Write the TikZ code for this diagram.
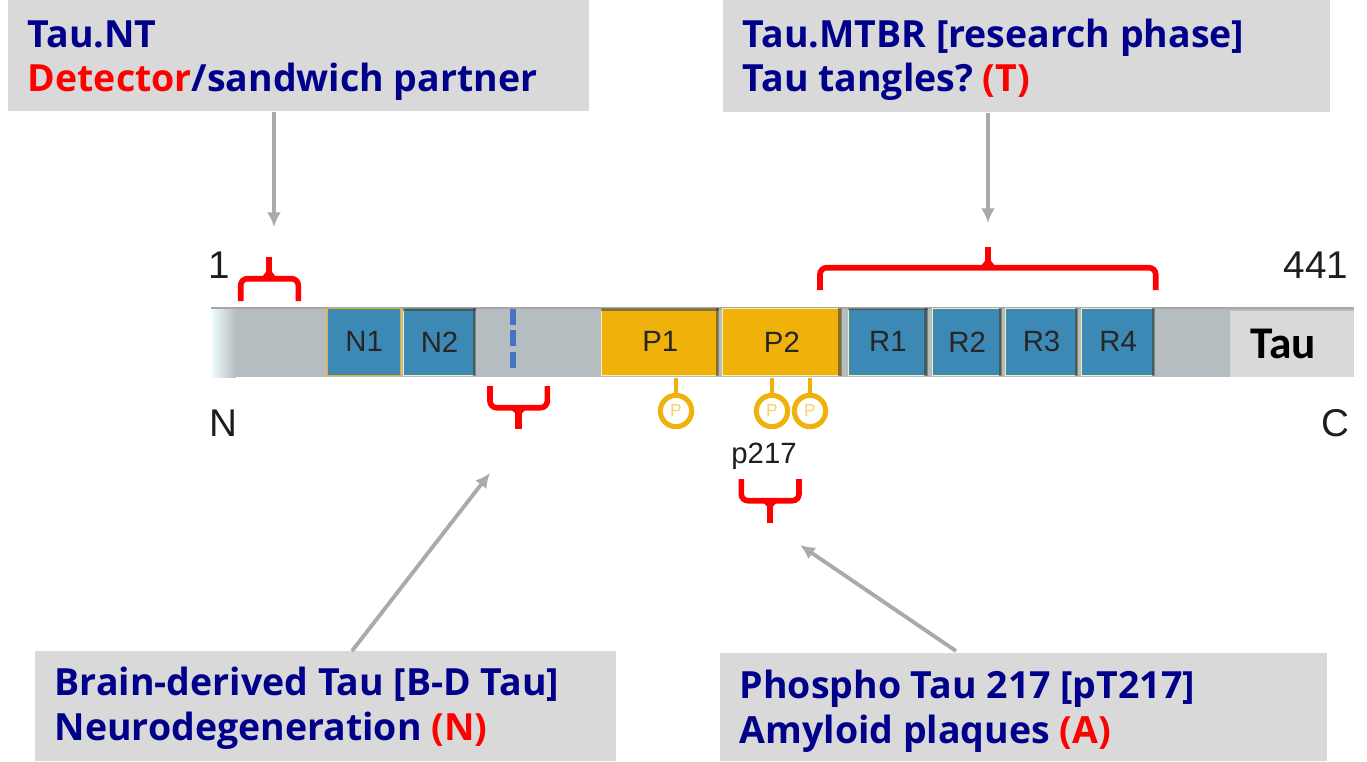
\documentclass[tikz,border=0pt]{standalone}
\usepackage{fontspec}
\setmainfont{Open Sans}
\newfontfamily\barfont{Liberation Sans}
\newfontfamily\taufont{Carlito}
\usetikzlibrary{arrows.meta}
\definecolor{lbl}{RGB}{0,0,139}
\definecolor{boxg}{RGB}{217,217,217}
\definecolor{barg}{RGB}{182,189,193}
\definecolor{dom}{RGB}{61,137,182}
\definecolor{gold}{RGB}{240,178,10}
\definecolor{arrowg}{RGB}{170,170,170}
\definecolor{dashb}{RGB}{68,114,196}
\definecolor{ink}{RGB}{30,30,30}
\definecolor{cream}{RGB}{250,240,170}
\newcommand{\rd}[1]{\textcolor{red}{#1}}
\tikzset{
 x=0.75pt,y=-0.75pt,
 panel/.style={fill=boxg,inner sep=0pt,anchor=north west},
 infotext/.style={font=\fontsize{28.1}{33.5}\selectfont\bfseries,text=lbl,align=left,anchor=base west,inner sep=0pt},
 domn/.style={draw=#1,line width=0.8pt,fill=dom,font=\barfont\fontsize{22}{22}\selectfont,text=black!85,inner sep=0pt,anchor=north west,minimum height=50pt},
 domg/.style={draw=#1,line width=0.8pt,fill=gold,font=\barfont\fontsize{22}{22}\selectfont,text=black!85,inner sep=0pt,anchor=north west,minimum height=50pt},
 shade/.style={fill=black!75,opacity=0.6},
 brace/.style={draw=red,line width=4.2pt,rounded corners=5pt},
 bracestem/.style={draw=red,line width=5pt},
 conn/.style={draw=arrowg,line width=2.9pt,-{Latex[length=11pt,width=10.5pt]}},
 num/.style={font=\barfont\fontsize{29}{29}\selectfont,text=ink,inner sep=0pt},
 pstem/.style={draw=gold,line width=3pt},
 pcirc/.style={circle,draw=gold,line width=3.8pt,fill=white,minimum size=23.5pt,inner sep=0pt,text=gold!60!white,font=\barfont\fontsize{13}{13}\selectfont},
}
\begin{document}
\begin{tikzpicture}
\useasboundingbox (0,0) rectangle (1367,761);
\fill[white] (0,0) rectangle (1367,761);
% boxes
\node[panel,minimum width=435.75pt,minimum height=83.25pt] (ntbox) at (8,0) {};
\node[panel,minimum width=455.25pt,minimum height=84pt] (mtbox) at (723,0) {};
\node[panel,minimum width=435.75pt,minimum height=82.5pt] (bdbox) at (35,651) {};
\node[panel,minimum width=455.25pt,minimum height=81pt] (ptbox) at (720,653) {};
\node[infotext] (t1) at (27.5,47) {Tau.NT};
\node[infotext] (t2) at (27.5,91) {\rd{Detector}/sandwich partner};
\node[infotext] (t3) at (742.5,47) {Tau.MTBR [research phase]};
\node[infotext] (t4) at (742.5,91) {Tau tangles?\hspace{-2.5pt} \rd{(T)}};
\node[infotext] (t5) at (54.5,695) {Brain-derived Tau [B-D Tau]};
\node[infotext] (t6) at (54.5,740) {Neurodegeneration \rd{(N)}};
\node[infotext] (t7) at (739.5,698) {Phospho Tau 217 [pT217]};
\node[infotext] (t8) at (739.5,743) {Amyloid plaques \rd{(A)}};
% bar
\node[panel,fill=barg,minimum width=857pt,minimum height=52.5pt] (bar) at (211,307) {};
\fill[left color=blue!5!cyan!6!white,right color=barg] (211,308) rectangle (236,377);
\fill[black!35] (211,307) rectangle (1354,309);
\node[panel,minimum width=93pt,minimum height=49pt] (taubox) at (1230,311) {};
\node[font=\taufont\bfseries\fontsize{34}{34}\selectfont,text=black,inner sep=0pt] (tau) at (1283,344) {Tau};
% domains
\node[domn=gold,minimum width=55pt] (n1) at (327,308) {N1};
\node[domn=cream,minimum width=54pt] (n2) at (403,308) {N2\hspace{2pt}};
\node[domg=cream,minimum width=88pt] (p1) at (601,308) {P1};
\node[domg=cream,minimum width=89pt] (p2) at (722,308) {P2};
\node[domn=cream,minimum width=59pt] (r1) at (848,308) {R1};
\node[domn=cream,minimum width=52pt] (r2) at (932,308) {R2};
\node[domn=cream,minimum width=54pt] (r3) at (1005,308) {R3};
\node[domn=cream,minimum width=55pt] (r4) at (1081,308) {R4\hspace{3pt}};
% dark bevels
\fill[shade] (n2.north west) rectangle ([yshift=-2pt]n2.north east);
\fill[shade] ([xshift=-2.5pt]n2.north east) rectangle (n2.south east);
\fill[shade] (p1.north west) rectangle ([yshift=-2pt]p1.north east);
\fill[shade] ([xshift=-2.5pt]p1.north east) rectangle (p1.south east);
\fill[shade] ([xshift=-2.5pt]p2.north east) rectangle (p2.south east);
\fill[shade] (r1.north west) rectangle ([yshift=-1.5pt]r1.north east);
\fill[shade] ([xshift=-2.5pt]r1.north east) rectangle (r1.south east);
\fill[shade] ([xshift=-2.5pt]r2.north east) rectangle (r2.south east);
\fill[shade] ([xshift=-2.5pt]r3.north east) rectangle (r3.south east);
\fill[shade] ([xshift=-2.5pt]r4.north east) rectangle (r4.south east);
\draw[dashb,line width=4.5pt,dash pattern=on 12pt off 4pt] (513,309) -- (513,369);
% labels
\node[num] (one) at (219,265) {1};
\node[num] (n441) at (1316,265) {441};
\node[num] (nn) at (223,423) {N};
\node[num] (cc) at (1335,423) {C};
\node[font=\barfont\fontsize{22}{22}\selectfont,text=ink,inner sep=0pt] (p217) at (764,456) {p217};
% phospho
\node[pcirc] (pa) at (676,411) {P};
\node[pcirc] (pb) at (772,411) {P};
\node[pcirc] (pc) at (810,411) {P};
\draw[pstem] (pa.north |- bar.south) -- (pa.north);
\draw[pstem] (pb.north |- bar.south) -- (pb.north);
\draw[pstem] (pc.north |- bar.south) -- (pc.north);
% braces
\draw[brace] (240.7,301) -- (240.7,278.7) -- (298.3,278.7) -- (298.3,301);
\draw[bracestem] (269,257) -- (269,279);
\fill[red] (262,277) -- (269,268) -- (276,277) -- cycle;
\draw[brace] (490,386) -- (490,407.7) -- (547.3,407.7) -- (547.3,386);
\draw[bracestem] (518.7,408) -- (518.7,429);
\fill[red] (511,409) -- (518.7,417) -- (526,409) -- cycle;
\draw[brace] (741.3,479) -- (741.3,500.7) -- (799,500.7) -- (799,479);
\draw[bracestem] (770,501) -- (770,522.7);
\fill[red] (763,502) -- (770,510) -- (777,502) -- cycle;
\draw[brace] (820,290) -- (820,267.7) -- (1155.7,267.7) -- (1155.7,290);
\draw[bracestem] (988,247) -- (988,268);
\fill[red] (981,266) -- (988,257) -- (995,266) -- cycle;
% connectors
\coordinate (a1) at (274,227);
\coordinate (a2) at (988,223);
\coordinate (a3) at (490,473);
\coordinate (a3s) at (352,651);
\coordinate (a4) at (800,545);
\coordinate (a4s) at (956,651);
\draw[conn] (a1 |- ntbox.south) -- (a1);
\draw[conn] (a2 |- mtbox.south) -- (a2);
\draw[conn] (a3s) -- (a3);
\draw[conn] (a4s) -- (a4);
\end{tikzpicture}
\end{document}
